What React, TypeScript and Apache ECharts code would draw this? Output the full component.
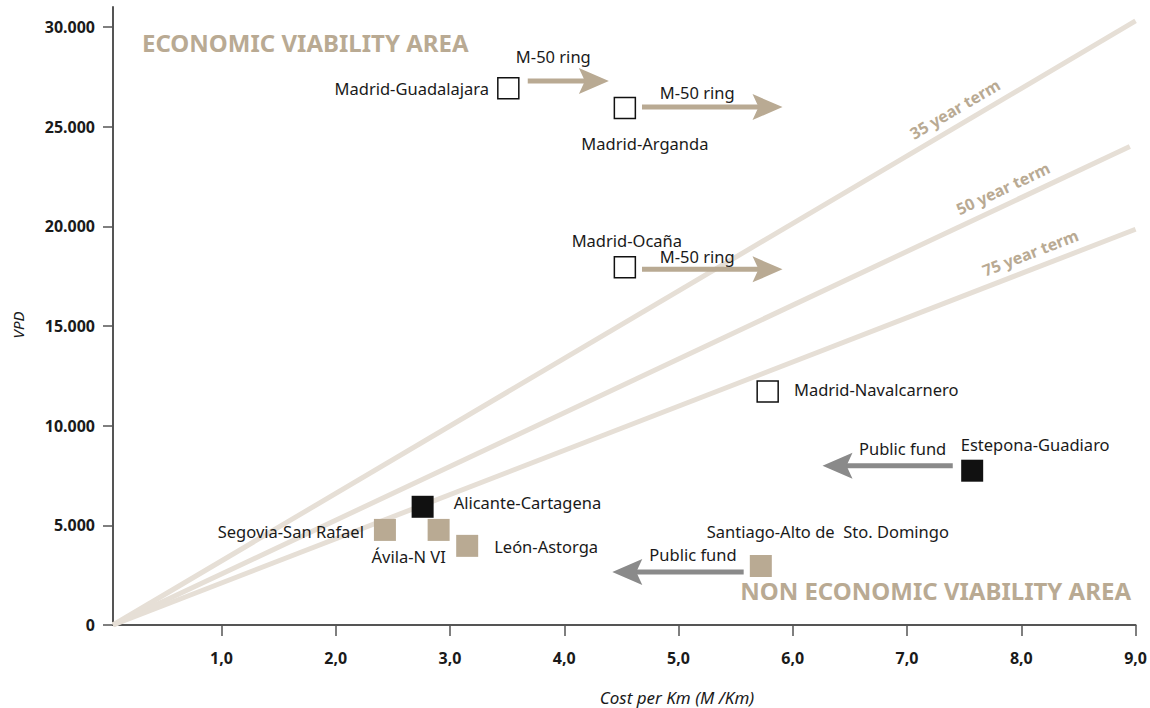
import React, { useEffect, useRef } from "react";
import * as echarts from "echarts";

// ---------- data ----------
const X_MIN = 0.05;
const X_MAX = 9;
const Y_MAX = 31000;
const xTickValues = [1, 2, 3, 4, 5, 6, 7, 8, 9];
const yTickValues = [0, 5000, 10000, 15000, 20000, 25000, 30000];

const termNames = ["35 year term", "50 year term", "75 year term"];
const termEndX = [9, 8.95, 9];
const termEndY = [30300, 24000, 19850];
const termLabelX = [7.49, 7.9, 8.13];

const openNames = ["Madrid-Guadalajara", "Madrid-Arganda", "Madrid-Ocaña", "Madrid-Navalcarnero"];
const openX = [3.51, 4.53, 4.53, 5.78];
const openY = [26930, 25930, 17940, 11710];

const tanNames = ["Segovia-San Rafael", "Ávila-N VI", "León-Astorga", "Santiago-Alto de  Sto. Domingo"];
const tanX = [2.43, 2.9, 3.15, 5.72];
const tanY = [4770, 4770, 3970, 2960];

const blackNames = ["Alicante-Cartagena", "Estepona-Guadiaro"];
const blackX = [2.76, 7.57];
const blackY = [5930, 7740];

const arrowLabels = ["M-50 ring", "M-50 ring", "M-50 ring", "Public fund", "Public fund"];
const arrowFromX = [3.68, 4.68, 4.68, 7.4, 5.57];
const arrowToX = [4.39, 5.91, 5.91, 6.26, 4.42];
const arrowY = [27290, 25980, 17840, 7990, 2660];
const arrowKind = ["ring", "ring", "ring", "fund", "fund"];

// ---------- layout / style ----------
const FONT = "'Noto Sans', 'Open Sans', sans-serif";
const TAN = "#b9aa93";
const LINE_BEIGE = "#e6dfd6";
const GRAY_ARROW = "#8a8a8a";
const TEXT = "#1a1a1a";
const AXIS = "#555555";
const LABEL_SIZE = 16.5;

const arrowLabelLift = [24, 15, 13, 17, 17];

type LabelPlace = { position: string; distance: number; offset: [number, number] };
const labelPlace: Record<string, LabelPlace> = {
  "Madrid-Guadalajara": { position: "left", distance: 8, offset: [0, 0] },
  "Madrid-Arganda": { position: "bottom", distance: 16, offset: [20, 0] },
  "Madrid-Ocaña": { position: "top", distance: 7, offset: [2, 0] },
  "Madrid-Navalcarnero": { position: "right", distance: 15, offset: [0, -2] },
  "Segovia-San Rafael": { position: "left", distance: 10, offset: [0, 2] },
  "Ávila-N VI": { position: "bottom", distance: 7, offset: [-30, 0] },
  "León-Astorga": { position: "right", distance: 16, offset: [0, 1] },
  "Santiago-Alto de  Sto. Domingo": { position: "top", distance: 15, offset: [67, 0] },
  "Alicante-Cartagena": { position: "right", distance: 20, offset: [0, -4] },
  "Estepona-Guadiaro": { position: "top", distance: 7, offset: [63, 0] },
};

function pointData(names: string[], xs: number[], ys: number[]) {
  return names.map((n, i) => {
    const p = labelPlace[n];
    return {
      name: n,
      value: [xs[i], ys[i]],
      label: {
        show: true,
        formatter: n,
        position: p.position,
        distance: p.distance,
        offset: p.offset,
        color: TEXT,
        fontSize: LABEL_SIZE,
        fontFamily: FONT,
      },
    };
  });
}

export default function App() {
  const ref = useRef<HTMLDivElement>(null);

  useEffect(() => {
    document.body.style.margin = "0";
    if (!ref.current) return;
    const chart = echarts.init(ref.current, undefined, { renderer: "svg" });

    const termSeries = termNames.map((n, i) => ({
      type: "line",
      name: n,
      data: [
        [X_MIN, 0],
        [termEndX[i], termEndY[i]],
      ],
      symbol: "none",
      lineStyle: { color: LINE_BEIGE, width: 5 },
      z: 1,
      silent: true,
    }));

    const termLabelSeries = {
      type: "custom",
      z: 2,
      silent: true,
      data: termNames.map((n, i) => [
        termLabelX[i],
        (termEndY[i] * (termLabelX[i] - X_MIN)) / (termEndX[i] - X_MIN),
        i,
      ]),
      encode: { x: 0, y: 1 },
      renderItem: (params: any, api: any) => {
        const i = api.value(2);
        const p0 = api.coord([X_MIN, 0]);
        const p1 = api.coord([termEndX[i], termEndY[i]]);
        const ang = Math.atan2(-(p1[1] - p0[1]), p1[0] - p0[0]);
        const c = api.coord([api.value(0), api.value(1)]);
        const off = 16;
        const cx = c[0] - Math.sin(ang) * off;
        const cy = c[1] - Math.cos(ang) * off;
        return {
          type: "text",
          x: cx,
          y: cy,
          rotation: ang,
          style: {
            text: termNames[i],
            align: "center",
            verticalAlign: "middle",
            fill: TAN,
            font: `bold 16px ${FONT}`,
          },
        };
      },
    };

    const arrowSeries = {
      type: "custom",
      z: 3,
      silent: true,
      data: arrowLabels.map((l, i) => [arrowFromX[i], arrowToX[i], arrowY[i], i]),
      encode: { x: [0, 1], y: 2 },
      renderItem: (params: any, api: any) => {
        const i = api.value(3);
        const p0 = api.coord([api.value(0), api.value(2)]);
        const p1 = api.coord([api.value(1), api.value(2)]);
        const dir = Math.sign(p1[0] - p0[0]);
        const color = arrowKind[i] === "ring" ? TAN : GRAY_ARROW;
        const headLen = 30;
        const halfW = 13;
        const notch = 6;
        const baseX = p1[0] - dir * headLen;
        const y = p1[1];
        const midX = (p0[0] + baseX) / 2;
        return {
          type: "group",
          children: [
            {
              type: "line",
              shape: { x1: p0[0], y1: y, x2: baseX + dir * (notch + 2), y2: y },
              style: { stroke: color, lineWidth: 5 },
            },
            {
              type: "polygon",
              shape: {
                points: [
                  [p1[0], y],
                  [baseX, y - halfW],
                  [baseX + dir * notch, y],
                  [baseX, y + halfW],
                ],
              },
              style: { fill: color },
            },
            {
              type: "text",
              x: midX,
              y: y - arrowLabelLift[i],
              style: {
                text: arrowLabels[i],
                align: "center",
                verticalAlign: "middle",
                fill: TEXT,
                font: `${LABEL_SIZE}px ${FONT}`,
              },
            },
          ],
        };
      },
    };

    const option: any = {
      animation: false,
      backgroundColor: "#ffffff",
      grid: { left: 113, right: 13, top: 7, bottom: 83, containLabel: false },
      xAxis: {
        type: "value",
        min: X_MIN,
        max: X_MAX,
        splitLine: { show: false },
        axisLine: { show: true, onZero: false, lineStyle: { color: AXIS, width: 2 } },
        axisTick: {
          show: true,
          length: 11,
          customValues: xTickValues,
          lineStyle: { color: AXIS, width: 1.5 },
        },
        axisLabel: {
          customValues: xTickValues,
          formatter: (v: number) => v.toFixed(1).replace(".", ","),
          fontWeight: "bold",
          fontSize: 16,
          color: TEXT,
          fontFamily: FONT,
          margin: 25,
        },
      },
      yAxis: {
        type: "value",
        min: 0,
        max: Y_MAX,
        splitLine: { show: false },
        axisLine: { show: true, onZero: false, lineStyle: { color: AXIS, width: 2 } },
        axisTick: {
          show: true,
          length: 10,
          customValues: yTickValues,
          lineStyle: { color: AXIS, width: 1.5 },
        },
        axisLabel: {
          customValues: yTickValues,
          formatter: (v: number) => (v === 0 ? "0" : `${v / 1000}.000`),
          fontWeight: "bold",
          fontSize: 16,
          color: TEXT,
          fontFamily: FONT,
          margin: 18,
        },
      },
      graphic: [
        {
          type: "text",
          left: 142,
          top: 30,
          style: {
            text: "ECONOMIC VIABILITY AREA",
            fill: TAN,
            font: `bold 24px ${FONT}`,
          },
        },
        {
          type: "text",
          right: 19,
          top: 578,
          style: {
            text: "NON ECONOMIC VIABILITY AREA",
            fill: TAN,
            font: `bold 24px ${FONT}`,
          },
        },
        {
          type: "text",
          x: 18,
          y: 325,
          rotation: Math.PI / 2,
          style: {
            text: "VPD",
            align: "center",
            verticalAlign: "middle",
            fill: TEXT,
            font: `italic 15px ${FONT}`,
          },
        },
        {
          type: "text",
          x: 677,
          y: 697,
          style: {
            text: "Cost per Km (M /Km)",
            align: "center",
            verticalAlign: "middle",
            fill: TEXT,
            font: `italic 17px ${FONT}`,
          },
        },
      ],
      series: [
        ...termSeries,
        termLabelSeries,
        arrowSeries,
        {
          type: "scatter",
          name: "open",
          symbol: "rect",
          symbolSize: 21,
          z: 5,
          itemStyle: { color: "#ffffff", borderColor: "#111111", borderWidth: 1.5, opacity: 1 },
          data: pointData(openNames, openX, openY),
        },
        {
          type: "scatter",
          name: "tan",
          symbol: "rect",
          symbolSize: 22,
          z: 5,
          itemStyle: { color: TAN, opacity: 1 },
          data: pointData(tanNames, tanX, tanY),
        },
        {
          type: "scatter",
          name: "black",
          symbol: "rect",
          symbolSize: 22,
          z: 5,
          itemStyle: { color: "#111111", opacity: 1 },
          data: pointData(blackNames, blackX, blackY),
        },
      ],
    };

    chart.setOption(option);
    return () => chart.dispose();
  }, []);

  return <div ref={ref} style={{ width: 1150, height: 708 }} />;
}
